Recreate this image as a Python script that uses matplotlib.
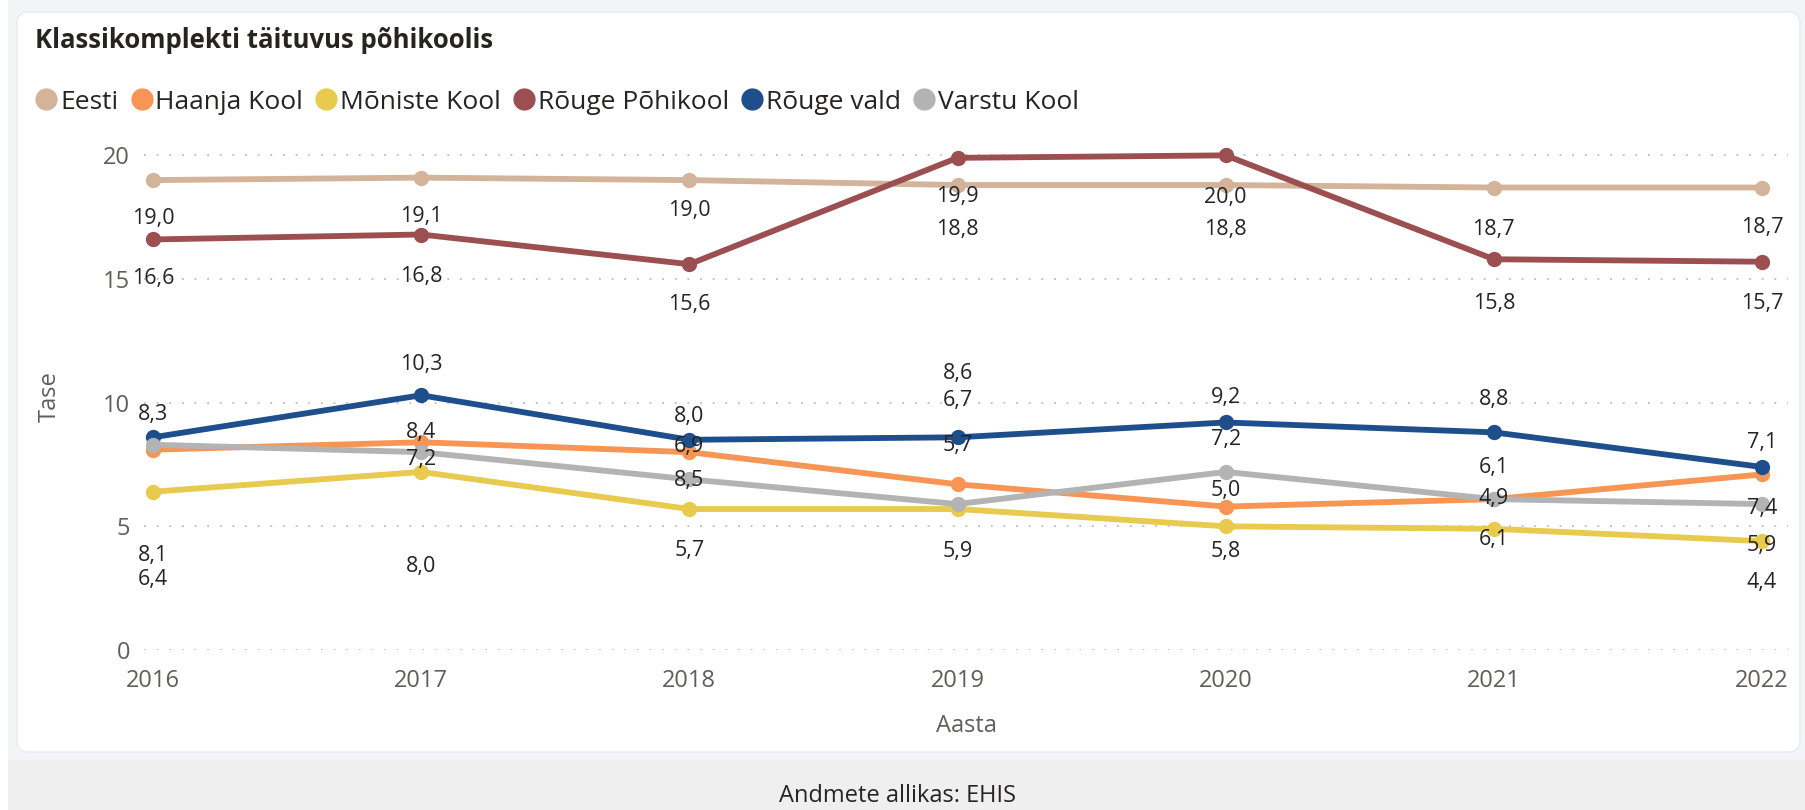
import matplotlib
matplotlib.use("Agg")
import matplotlib.pyplot as plt
from matplotlib.patches import FancyBboxPatch, Rectangle

plt.rcParams['font.family'] = ['Open Sans', 'DejaVu Sans']

# data
years = [2016, 2017, 2018, 2019, 2020, 2021, 2022]
eesti = [19.0, 19.1, 19.0, 18.8, 18.8, 18.7, 18.7]
haanja = [8.1, 8.4, 8.0, 6.7, 5.8, 6.1, 7.1]
moniste = [6.4, 7.2, 5.7, 5.7, 5.0, 4.9, 4.4]
rouge_pk = [16.6, 16.8, 15.6, 19.9, 20.0, 15.8, 15.7]
rouge_vald = [8.6, 10.3, 8.5, 8.6, 9.2, 8.8, 7.4]
varstu = [8.3, 8.0, 6.9, 5.9, 7.2, 6.1, 5.9]

series = [
    ("Eesti", eesti, "#D3B39A"),
    ("Haanja Kool", haanja, "#F79554"),
    ("Mõniste Kool", moniste, "#E8CA4F"),
    ("Rõuge Põhikool", rouge_pk, "#9B4F50"),
    ("Rõuge vald", rouge_vald, "#1F4E8C"),
    ("Varstu Kool", varstu, "#B3B3B3"),
]

# label offsets in points (None = hidden, like in the original)
label_offsets = {
    "Eesti": [-28, -28, -22, -32, -32, -30, -29],
    "Haanja Kool": [-76, 7, 26, 60, -32, 23, 23],
    "Mõniste Kool": [-63, 9, -30, 46, 26, 22, -30],
    "Rõuge Põhikool": [-28, -30, -29, -28, -30, -32, -30],
    "Rõuge vald": [None, 22, -29, 46, 18, 24, -30],
    "Varstu Kool": [22, -82, 24, -34, 23, -29, -30],
}

W, H = 1806, 810
fig = plt.figure(figsize=(W / 100, H / 100), dpi=100)
fig.patch.set_facecolor("#F3F4F7")

# background bits: white strip on the left, lighter band below the card
fig.patches.append(Rectangle((0, 0), 8, H, transform=None, facecolor="white", edgecolor="none", zorder=-3))
fig.patches.append(Rectangle((8, 0), W, 50, transform=None, facecolor="#EFEFF0", edgecolor="none", zorder=-3))
# card
fig.patches.append(FancyBboxPatch((17, H - 752), 1783, 740, boxstyle="round,pad=0,rounding_size=12",
                                  transform=None, facecolor="white", edgecolor="#E9EAEE", linewidth=1, zorder=-2))

ax = fig.add_axes([144 / W, 1 - 650 / H, (1788 - 144) / W, (650 - 143) / H])
ax.set_facecolor("none")
ax.set_zorder(1)

for name, vals, color in series:
    ax.plot(years, vals, color=color, linewidth=4.2, marker="o", markersize=10,
            label=name, clip_on=False, zorder=3)

for name, vals, color in series:
    for x, v, off in zip(years, vals, label_offsets[name]):
        if off is None:
            continue
        ax.annotate(f"{v:.1f}".replace(".", ","), (x, v), xytext=(0, off),
                    textcoords="offset points", ha="center", va="center",
                    fontsize=15.5, color="#252423", zorder=5)

ax.set_xlim(2016 - 9 / 268.2, 2022 + 26 / 268.2)
ax.set_ylim(0, 20.5)
ax.set_yticks([0, 5, 10, 15, 20])
ax.set_xticks(years)
ax.set_xticklabels([str(y) for y in years])
ax.grid(axis="y", linestyle=(0, (1, 6)), color="#BDBDBD", linewidth=1.3)
ax.set_axisbelow(True)
for s in ax.spines.values():
    s.set_visible(False)
ax.tick_params(length=0, labelsize=17, colors="#605E5C")
ax.tick_params(axis="y", pad=10)
ax.tick_params(axis="x", pad=14)

ax.set_xlabel("Aasta", fontsize=17, color="#605E5C", labelpad=15)
ax.set_ylabel("Tase", fontsize=17, color="#605E5C", labelpad=30)

fig.text(35 / W, 1 - 40 / H, "Klassikomplekti täituvus põhikoolis", fontsize=18.5,
         fontweight="bold", color="#252423", va="center", ha="left")

leg = fig.legend(loc="upper left", bbox_to_anchor=(26 / W, 1 - 79 / H), ncol=6, frameon=False,
                 fontsize=19, handlelength=0.75, handletextpad=0.15, columnspacing=0.5,
                 borderaxespad=0, labelcolor="#252423")
for h in leg.legend_handles:
    h.set_linestyle("none")
    h.set_markersize(15)

fig.text(898 / W, 1 - 784 / H, "Andmete allikas: EHIS", fontsize=17, color="#252423",
         ha="center", va="top")

fig.savefig("out.png", dpi=100, facecolor=fig.get_facecolor())
